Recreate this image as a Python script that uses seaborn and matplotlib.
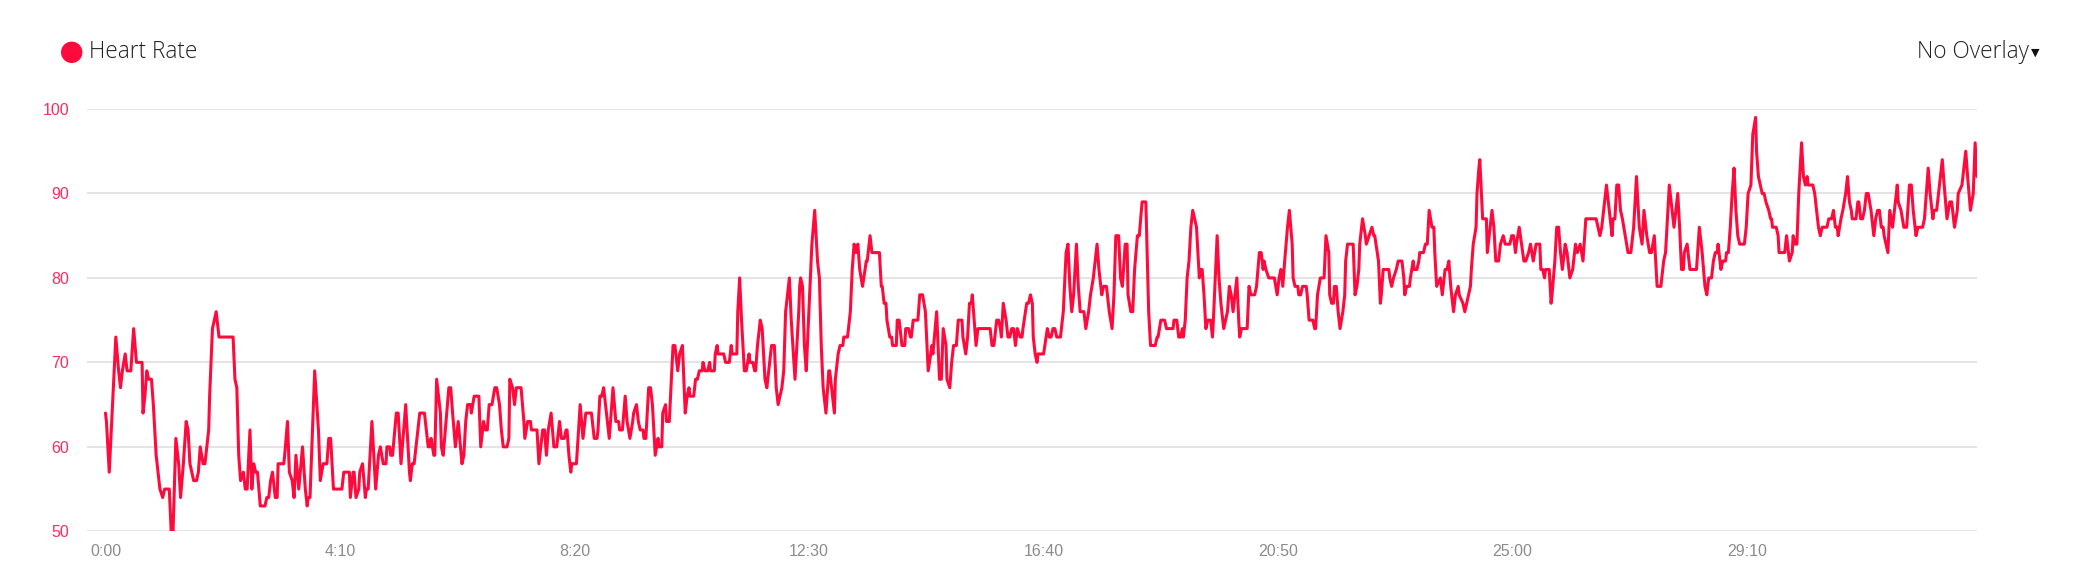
import pandas as pd
import matplotlib.pyplot as plt
import seaborn as sns
from matplotlib.patches import Ellipse

# Heart rate samples: elapsed seconds and beats per minute
seconds = [
    0, 1, 4, 8, 11, 14, 16, 18, 21, 23, 27, 30, 33, 39, 40, 42, 44, 46, 49, 51,
    54, 58, 61, 63, 68, 70, 72, 75, 78, 80, 83, 86, 88, 90, 92, 94, 97, 99, 101, 104,
    106, 110, 111, 114, 116, 118, 121, 136, 138, 140, 142, 144, 147, 149, 151, 154, 156, 158, 160, 162,
    165, 170, 172, 174, 176, 178, 181, 183, 184, 190, 191, 194, 196, 199, 201, 203, 206, 210, 213, 215,
    216, 218, 223, 227, 229, 232, 236, 238, 240, 243, 252, 254, 260, 261, 264, 265, 267, 270, 271, 274,
    277, 278, 280, 284, 288, 291, 293, 296, 299, 300, 303, 304, 306, 310, 312, 315, 320, 324, 325, 327,
    329, 335, 340, 341, 344, 346, 347, 350, 351, 353, 357, 358, 360, 363, 366, 368, 370, 373, 376, 380,
    382, 384, 386, 389, 390, 393, 398, 400, 403, 405, 407, 409, 412, 415, 417, 420, 422, 424, 428, 430,
    431, 434, 436, 438, 443, 446, 447, 450, 453, 454, 460, 462, 466, 468, 470, 472, 475, 478, 481, 484,
    486, 489, 491, 492, 494, 496, 497, 502, 506, 509, 512, 518, 521, 524, 525, 527, 529, 531, 534, 537,
    541, 544, 547, 548, 551, 554, 556, 559, 562, 563, 566, 568, 570, 573, 574, 576, 579, 581, 583, 586,
    589, 590, 593, 594, 597, 598, 601, 605, 607, 610, 612, 615, 618, 620, 622, 623, 627, 629, 631, 633,
    636, 637, 639, 642, 644, 645, 649, 650, 652, 653, 659, 661, 665, 667, 668, 673, 674, 676, 678, 681,
    683, 686, 687, 690, 692, 693, 695, 698, 700, 703, 705, 707, 710, 713, 715, 717, 719, 721, 723, 725,
    729, 731, 735, 739, 740, 741, 743, 745, 747, 753, 756, 759, 761, 763, 765, 768, 771, 772, 774, 777,
    778, 781, 783, 786, 787, 791, 794, 796, 798, 800, 802, 804, 807, 811, 812, 815, 817, 825, 827, 828,
    830, 832, 833, 836, 838, 839, 843, 844, 846, 848, 849, 852, 853, 856, 858, 859, 861, 866, 868, 871,
    874, 877, 881, 882, 886, 889, 891, 893, 896, 897, 900, 902, 904, 907, 909, 913, 914, 917, 919, 921,
    923, 924, 926, 928, 930, 943, 945, 947, 950, 952, 954, 955, 957, 960, 962, 964, 966, 968, 970, 972,
    975, 977, 978, 982, 984, 986, 988, 989, 991, 993, 994, 1000, 1004, 1006, 1008, 1010, 1012, 1014, 1018, 1021,
    1024, 1026, 1028, 1030, 1032, 1035, 1037, 1039, 1043, 1045, 1048, 1050, 1053, 1057, 1059, 1062, 1064, 1067, 1070, 1073,
    1075, 1077, 1080, 1082, 1084, 1087, 1089, 1090, 1093, 1095, 1097, 1100, 1102, 1105, 1109, 1112, 1114, 1119, 1121, 1122,
    1125, 1129, 1131, 1138, 1139, 1142, 1144, 1146, 1148, 1149, 1151, 1153, 1155, 1157, 1159, 1161, 1163, 1166, 1167, 1169,
    1171, 1173, 1175, 1178, 1180, 1181, 1183, 1185, 1187, 1189, 1191, 1192, 1194, 1196, 1198, 1200, 1202, 1206, 1208, 1209,
    1211, 1217, 1219, 1221, 1225, 1227, 1230, 1232, 1234, 1235, 1237, 1240, 1246, 1249, 1251, 1253, 1255, 1257, 1260, 1262,
    1265, 1266, 1268, 1271, 1272, 1274, 1276, 1280, 1281, 1283, 1285, 1287, 1289, 1290, 1292, 1295, 1299, 1301, 1304, 1305,
    1307, 1309, 1310, 1312, 1314, 1316, 1319, 1321, 1322, 1324, 1330, 1332, 1334, 1336, 1337, 1340, 1343, 1344, 1347, 1350,
    1352, 1353, 1357, 1359, 1360, 1362, 1368, 1369, 1371, 1373, 1376, 1378, 1382, 1384, 1385, 1387, 1390, 1391, 1394, 1395,
    1398, 1400, 1401, 1405, 1407, 1409, 1411, 1414, 1416, 1417, 1419, 1423, 1425, 1428, 1430, 1432, 1434, 1437, 1439, 1442,
    1443, 1447, 1449, 1451, 1455, 1456, 1458, 1461, 1462, 1464, 1465, 1468, 1472, 1473, 1475, 1478, 1480, 1482, 1485, 1487,
    1490, 1492, 1497, 1499, 1501, 1503, 1504, 1507, 1512, 1514, 1517, 1519, 1522, 1525, 1529, 1530, 1532, 1534, 1535, 1539,
    1541, 1542, 1545, 1547, 1549, 1551, 1553, 1556, 1558, 1561, 1564, 1567, 1569, 1572, 1575, 1578, 1589, 1591, 1593, 1595,
    1598, 1600, 1603, 1606, 1607, 1609, 1611, 1613, 1615, 1617, 1620, 1623, 1626, 1629, 1631, 1632, 1635, 1638, 1640, 1643,
    1646, 1648, 1651, 1654, 1658, 1661, 1663, 1665, 1667, 1670, 1672, 1676, 1678, 1680, 1682, 1683, 1686, 1687, 1689, 1696,
    1699, 1702, 1705, 1707, 1709, 1712, 1714, 1716, 1718, 1719, 1720, 1722, 1724, 1727, 1728, 1730, 1732, 1734, 1736, 1738,
    1740, 1742, 1747, 1749, 1751, 1754, 1756, 1759, 1760, 1762, 1766, 1768, 1770, 1773, 1775, 1776, 1777, 1781, 1783, 1784,
    1790, 1792, 1795, 1798, 1799, 1801, 1803, 1805, 1808, 1810, 1812, 1814, 1815, 1820, 1822, 1824, 1826, 1828, 1830, 1835,
    1837, 1840, 1842, 1844, 1846, 1847, 1850, 1852, 1855, 1857, 1859, 1861, 1862, 1866, 1868, 1869, 1871, 1873, 1875, 1877,
    1879, 1882, 1885, 1887, 1889, 1891, 1893, 1895, 1896, 1900, 1902, 1905, 1908, 1910, 1911, 1914, 1917, 1920, 1923, 1925,
    1927, 1930, 1932, 1937, 1939, 1941, 1943, 1945, 1948, 1949, 1952, 1953, 1955, 1958, 1960, 1963, 1966, 1968, 1971, 1974,
    1975, 1979, 1981, 1983, 1985, 1988, 1991, 1993, 1995,
]
bpm = [
    64, 63, 57, 66, 73, 69, 67, 69, 71, 69, 69, 74, 70, 70, 64, 66, 69, 68, 68, 65,
    59, 55, 54, 55, 55, 50, 50, 61, 58, 54, 58, 63, 62, 58, 57, 56, 56, 57, 60, 58,
    58, 62, 66, 74, 75, 76, 73, 73, 68, 67, 59, 56, 57, 55, 55, 62, 55, 58, 57, 57,
    53, 53, 54, 54, 56, 57, 54, 54, 58, 58, 59, 63, 57, 56, 54, 59, 55, 60, 55, 53,
    54, 54, 69, 62, 56, 58, 58, 61, 61, 55, 55, 57, 57, 54, 57, 57, 54, 55, 57, 58,
    54, 55, 55, 63, 55, 59, 60, 58, 58, 60, 60, 59, 59, 64, 64, 58, 65, 57, 56, 58,
    58, 64, 64, 63, 60, 60, 61, 59, 59, 68, 64, 60, 59, 63, 67, 67, 64, 60, 63, 58,
    59, 63, 65, 65, 64, 66, 66, 60, 63, 62, 62, 65, 65, 67, 67, 65, 62, 60, 60, 61,
    68, 67, 65, 67, 67, 63, 61, 63, 63, 62, 62, 58, 62, 62, 59, 62, 64, 60, 60, 63,
    61, 61, 62, 62, 59, 57, 58, 58, 65, 61, 64, 64, 61, 61, 62, 66, 66, 67, 64, 61,
    67, 63, 63, 62, 62, 66, 63, 61, 63, 64, 65, 63, 62, 62, 61, 61, 67, 67, 65, 59,
    61, 60, 60, 64, 65, 63, 63, 72, 72, 69, 71, 72, 64, 66, 67, 66, 66, 68, 68, 69,
    69, 70, 69, 69, 70, 69, 69, 71, 72, 71, 71, 70, 70, 72, 71, 71, 76, 80, 75, 69,
    69, 71, 70, 70, 69, 69, 72, 75, 74, 68, 67, 69, 72, 72, 67, 65, 66, 67, 69, 76,
    80, 75, 68, 76, 79, 80, 79, 72, 69, 84, 88, 82, 80, 72, 67, 64, 69, 69, 67, 64,
    68, 71, 72, 72, 73, 73, 76, 81, 84, 83, 84, 81, 79, 82, 82, 85, 83, 83, 79, 79,
    77, 77, 75, 73, 73, 72, 72, 75, 75, 73, 72, 72, 74, 74, 73, 73, 75, 75, 78, 78,
    76, 69, 72, 71, 76, 68, 68, 74, 72, 68, 67, 70, 72, 72, 75, 75, 73, 71, 73, 77,
    77, 78, 75, 72, 74, 74, 72, 72, 75, 75, 74, 73, 77, 75, 73, 73, 74, 74, 72, 74,
    73, 73, 74, 77, 77, 78, 77, 73, 71, 70, 71, 71, 74, 73, 73, 74, 74, 73, 73, 76,
    83, 84, 79, 76, 78, 84, 79, 76, 76, 74, 76, 78, 80, 84, 81, 78, 79, 79, 76, 74,
    78, 85, 85, 80, 79, 84, 84, 78, 76, 76, 81, 85, 85, 89, 89, 76, 72, 72, 73, 73,
    75, 75, 74, 74, 75, 75, 73, 73, 74, 73, 75, 80, 82, 86, 88, 87, 86, 80, 81, 81,
    78, 74, 75, 75, 73, 75, 80, 85, 80, 77, 75, 74, 75, 76, 79, 78, 76, 80, 75, 73,
    74, 74, 79, 78, 78, 79, 83, 83, 81, 82, 81, 80, 80, 78, 80, 81, 79, 82, 86, 88,
    84, 80, 79, 79, 78, 78, 79, 79, 78, 75, 75, 75, 74, 74, 78, 80, 80, 85, 83, 78,
    77, 77, 79, 79, 76, 74, 76, 78, 82, 84, 84, 78, 79, 81, 84, 87, 85, 84, 85, 86,
    85, 85, 82, 77, 78, 81, 81, 80, 79, 80, 81, 82, 82, 80, 78, 79, 79, 80, 82, 81,
    81, 82, 83, 83, 84, 84, 88, 86, 86, 83, 79, 80, 78, 81, 81, 82, 79, 76, 78, 79,
    78, 77, 76, 77, 79, 81, 84, 86, 90, 93, 94, 87, 87, 83, 85, 88, 86, 82, 82, 84,
    85, 84, 84, 85, 85, 83, 84, 86, 82, 82, 83, 84, 82, 84, 84, 81, 81, 80, 81, 81,
    77, 78, 82, 86, 86, 83, 81, 84, 83, 80, 81, 84, 83, 84, 82, 87, 87, 86, 85, 86,
    89, 91, 88, 85, 87, 87, 91, 91, 88, 87, 85, 83, 83, 86, 90, 92, 86, 84, 88, 85,
    83, 83, 85, 79, 79, 82, 83, 87, 91, 88, 86, 90, 86, 81, 81, 83, 84, 83, 81, 81,
    86, 83, 79, 78, 80, 80, 82, 83, 83, 84, 83, 81, 82, 82, 83, 83, 86, 90, 93, 88,
    85, 84, 84, 86, 90, 91, 97, 99, 95, 92, 90, 90, 89, 88, 87, 87, 86, 86, 85, 83,
    83, 85, 82, 83, 85, 84, 84, 90, 96, 92, 91, 92, 91, 91, 90, 88, 86, 85, 86, 86,
    87, 87, 88, 86, 86, 85, 87, 88, 90, 92, 89, 88, 87, 87, 89, 89, 87, 87, 88, 90,
    90, 88, 85, 87, 88, 88, 86, 86, 85, 83, 88, 86, 89, 91, 89, 88, 86, 86, 91, 91,
    88, 85, 86, 86, 87, 90, 93, 90, 87, 88, 88, 89, 91, 94, 91, 87, 89, 89, 86, 88,
    90, 91, 93, 95, 92, 88, 90, 96, 92,
]

tick_seconds = [0, 250, 500, 750, 1000, 1250, 1500, 1750]
tick_labels = [f"{s // 60}:{s % 60:02d}" for s in tick_seconds]
y_ticks = [50, 60, 70, 80, 90, 100]

line_red = "#ff0a3c"
label_red = "#ff2a5f"

df = pd.DataFrame({"seconds": seconds, "bpm": bpm})

sns.set_style("white")
plt.rcParams["font.family"] = ["Liberation Sans", "DejaVu Sans"]

W, H = 2081, 578
fig = plt.figure(figsize=(W / 100, H / 100), dpi=100)
ax = fig.add_axes([87.3 / W, 1 - 531.3 / H, (1977 - 87.3) / W, (531.3 - 109) / H])

sns.lineplot(data=df, x="seconds", y="bpm", ax=ax, color=line_red,
             linewidth=2.2, estimator=None, zorder=3)

ax.set_xlim(-19.4, 1995)
ax.set_ylim(50, 100)
ax.set_xticks(tick_seconds)
ax.set_xticklabels(tick_labels)
ax.set_yticks(y_ticks)
ax.set_xlabel("")
ax.set_ylabel("")
for s in ax.spines.values():
    s.set_visible(False)
ax.grid(axis="y", color="#e2e2e2", linewidth=1.3)
ax.grid(axis="x", visible=False)
ax.set_axisbelow(True)
ax.tick_params(axis="y", length=0, pad=13, labelsize=11.5, labelcolor=label_red)
ax.tick_params(axis="x", length=0, pad=9, labelsize=11.5, labelcolor="#8c8c8c")

# header: legend dot, series name and overlay selector
fig.patches.append(Ellipse((71.7 / W, 1 - 52.3 / H), 20 / W, 20 / H,
                           transform=fig.transFigure, color=line_red))
fig.text(89 / W, 1 - 52 / H, "Heart Rate", family=["Open Sans", "DejaVu Sans"],
         fontweight="light", fontsize=16.3, color="#222222", va="center", ha="left")
fig.text(2029 / W, 1 - 52 / H, "No Overlay", family=["Open Sans", "DejaVu Sans"],
         fontweight="light", fontsize=16.3, color="#222222", va="center", ha="right")
fig.text(2031 / W, 1 - 53 / H, "\u25bc", family="DejaVu Sans", fontsize=8,
         color="#111111", va="center", ha="left")

fig.savefig("out.png", dpi=100)
